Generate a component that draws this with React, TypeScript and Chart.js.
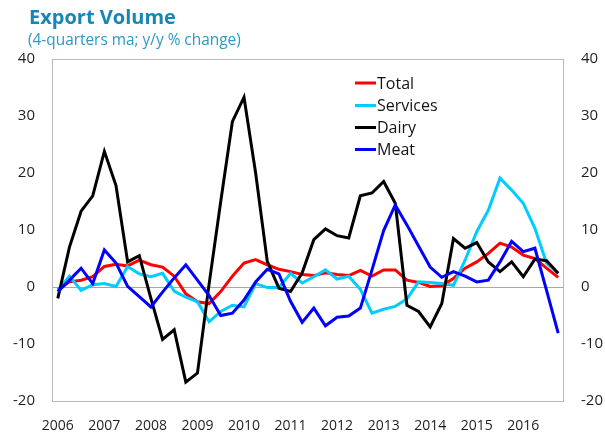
import React, { useEffect, useRef } from 'react';
import { Chart, registerables } from 'chart.js';

Chart.register(...registerables);

const quarters = [
  '2006Q1', '2006Q2', '2006Q3', '2006Q4',
  '2007Q1', '2007Q2', '2007Q3', '2007Q4',
  '2008Q1', '2008Q2', '2008Q3', '2008Q4',
  '2009Q1', '2009Q2', '2009Q3', '2009Q4',
  '2010Q1', '2010Q2', '2010Q3', '2010Q4',
  '2011Q1', '2011Q2', '2011Q3', '2011Q4',
  '2012Q1', '2012Q2', '2012Q3', '2012Q4',
  '2013Q1', '2013Q2', '2013Q3', '2013Q4',
  '2014Q1', '2014Q2', '2014Q3', '2014Q4',
  '2015Q1', '2015Q2', '2015Q3', '2015Q4',
  '2016Q1', '2016Q2', '2016Q3', '2016Q4',
];

const total = [
  -0.5, 0.9, 1.2, 1.8, 3.6, 4.0, 3.7, 4.7, 3.9, 3.5, 1.9, -1.2, -2.6, -2.9, -0.8, 1.9,
  4.2, 4.8, 3.9, 3.1, 2.7, 2.2, 2.0, 2.5, 2.2, 2.0, 2.9, 1.9, 3.0, 3.0, 1.2, 0.8,
  0.1, 0.2, 1.5, 3.3, 4.4, 5.9, 7.7, 7.0, 5.6, 5.0, 3.3, 1.7,
];

const services = [
  -0.7, 1.9, -0.6, 0.4, 0.6, 0.1, 3.6, 2.3, 1.8, 2.4, -0.7, -1.8, -2.6, -6.1, -4.3, -3.2,
  -3.5, 0.6, -0.1, -0.1, 2.4, 0.7, 1.8, 3.0, 1.4, 1.9, -0.4, -4.6, -3.9, -3.4, -2.1, 0.9,
  0.8, 0.6, 0.3, 4.7, 9.7, 13.5, 19.1, 17.0, 14.7, 10.3, 4.2, 2.4,
];

const dairy = [
  -2.0, 7.0, 13.3, 16.0, 23.8, 17.8, 4.4, 5.5, -2.0, -9.2, -7.5, -16.7, -15.1, 0.5, 15.0, 29.0,
  33.3, 20.0, 4.5, -0.2, -0.8, 2.5, 8.3, 10.2, 9.0, 8.6, 16.0, 16.5, 18.5, 14.7, -3.2, -4.3,
  -7.0, -2.9, 8.5, 6.8, 7.8, 4.4, 2.7, 4.4, 1.8, 4.9, 4.6, 2.4,
];

const meat = [
  -0.8, 1.2, 3.3, 0.6, 6.5, 4.2, 0.1, -1.7, -3.5, -0.9, 1.6, 3.9, 1.2, -1.5, -5.0, -4.6,
  -2.3, 0.9, 3.1, 2.3, -2.5, -6.2, -3.7, -6.8, -5.3, -5.1, -3.7, 3.0, 9.9, 14.4, 10.9, 7.2,
  3.5, 1.7, 2.7, 1.9, 0.9, 1.2, 4.4, 8.0, 6.2, 6.8, -0.6, -8.1,
];

const seriesNames = ['Total', 'Services', 'Dairy', 'Meat'];
const seriesColors = ['#ff0000', '#00ccff', '#000000', '#0000ff'];

const titleText = 'Export Volume';
const subtitleText = '(4-quarters ma; y/y % change)';

const FONT = '"Open Sans", "Noto Sans", sans-serif';
const TICK_COLOR = '#1f1f1f';

const boxPlugin = {
  id: 'plotBox',
  beforeDatasetsDraw(chart: any) {
    const { ctx, chartArea } = chart;
    ctx.save();
    ctx.strokeStyle = '#b8b8b8';
    ctx.lineWidth = 1;
    ctx.strokeRect(
      Math.round(chartArea.left) + 0.5,
      Math.round(chartArea.top) + 0.5,
      Math.round(chartArea.right - chartArea.left) - 1,
      Math.round(chartArea.bottom - chartArea.top)
    );
    ctx.restore();
  },
};

const titlePlugin = {
  id: 'titles',
  afterDraw(chart: any) {
    const { ctx } = chart;
    ctx.save();
    ctx.textAlign = 'left';
    ctx.textBaseline = 'alphabetic';
    ctx.fillStyle = '#1786b6';
    ctx.font = `bold 20px ${FONT}`;
    ctx.fillText(titleText, 29, 24);
    ctx.fillStyle = '#2a9ac8';
    ctx.font = `15.4px ${FONT}`;
    ctx.fillText(subtitleText, 28, 45);
    ctx.restore();
  },
};

const legendPlugin = {
  id: 'innerLegend',
  afterDatasetsDraw(chart: any) {
    const { ctx } = chart;
    const rows = [83, 105.5, 127.5, 149.5];
    ctx.save();
    chart.data.datasets.forEach((ds: any, i: number) => {
      const y = rows[i];
      ctx.strokeStyle = ds.borderColor;
      ctx.lineWidth = 3;
      ctx.beginPath();
      ctx.moveTo(355, y);
      ctx.lineTo(376, y);
      ctx.stroke();
      ctx.fillStyle = '#141414';
      ctx.font = `16px ${FONT}`;
      ctx.textAlign = 'left';
      ctx.textBaseline = 'middle';
      ctx.fillText(ds.label, 377, y + 1);
    });
    ctx.restore();
  },
};

export default function App() {
  const ref = useRef<HTMLCanvasElement>(null);

  useEffect(() => {
    document.body.style.margin = '0';
    const canvas = ref.current;
    if (!canvas) return;
    const values = [total, services, dairy, meat];
    const chart = new Chart(canvas, {
      type: 'line',
      data: {
        labels: quarters,
        datasets: values.map((v, i) => ({
          label: seriesNames[i],
          data: v,
          borderColor: seriesColors[i],
          backgroundColor: seriesColors[i],
          borderWidth: 3,
          pointRadius: 0,
          tension: 0,
          fill: false,
          order: 4 - i,
          yAxisID: 'y',
        })),
      },
      options: {
        responsive: false,
        animation: false,
        layout: { padding: { top: 59, left: 0, right: 0, bottom: 0 } },
        plugins: {
          legend: { display: false },
          tooltip: { enabled: false },
          title: { display: false },
        },
        scales: {
          x: {
            type: 'category',
            offset: true,
            grid: { display: false, drawTicks: false },
            border: { display: false },
            ticks: {
              autoSkip: false,
              maxRotation: 0,
              minRotation: 0,
              padding: 17,
              color: TICK_COLOR,
              font: { family: FONT, size: 14 },
              callback: (_v: any, i: number) => (i % 4 === 0 ? quarters[i].slice(0, 4) : ''),
            },
            afterFit: (s: any) => {
              s.height = 35;
            },
          },
          y: {
            position: 'left',
            min: -20,
            max: 40,
            grid: {
              drawTicks: false,
              lineWidth: 1,
              color: (c: any) => (c.tick && c.tick.value === 0 ? '#a6a6a6' : 'rgba(0,0,0,0)'),
            },
            border: { display: false },
            ticks: {
              stepSize: 10,
              padding: 17,
              color: TICK_COLOR,
              font: { family: FONT, size: 15 },
            },
            afterFit: (s: any) => {
              s.width = 52;
            },
          },
          y1: {
            position: 'right',
            min: -20,
            max: 40,
            grid: { display: false, drawTicks: false },
            border: { display: false },
            ticks: {
              stepSize: 10,
              padding: 17,
              color: TICK_COLOR,
              font: { family: FONT, size: 15 },
            },
            afterFit: (s: any) => {
              s.width = 41;
            },
          },
        },
      } as any,
      plugins: [boxPlugin, titlePlugin, legendPlugin],
    });
    return () => chart.destroy();
  }, []);

  return <canvas ref={ref} width={605} height={436} style={{ display: 'block' }} />;
}
